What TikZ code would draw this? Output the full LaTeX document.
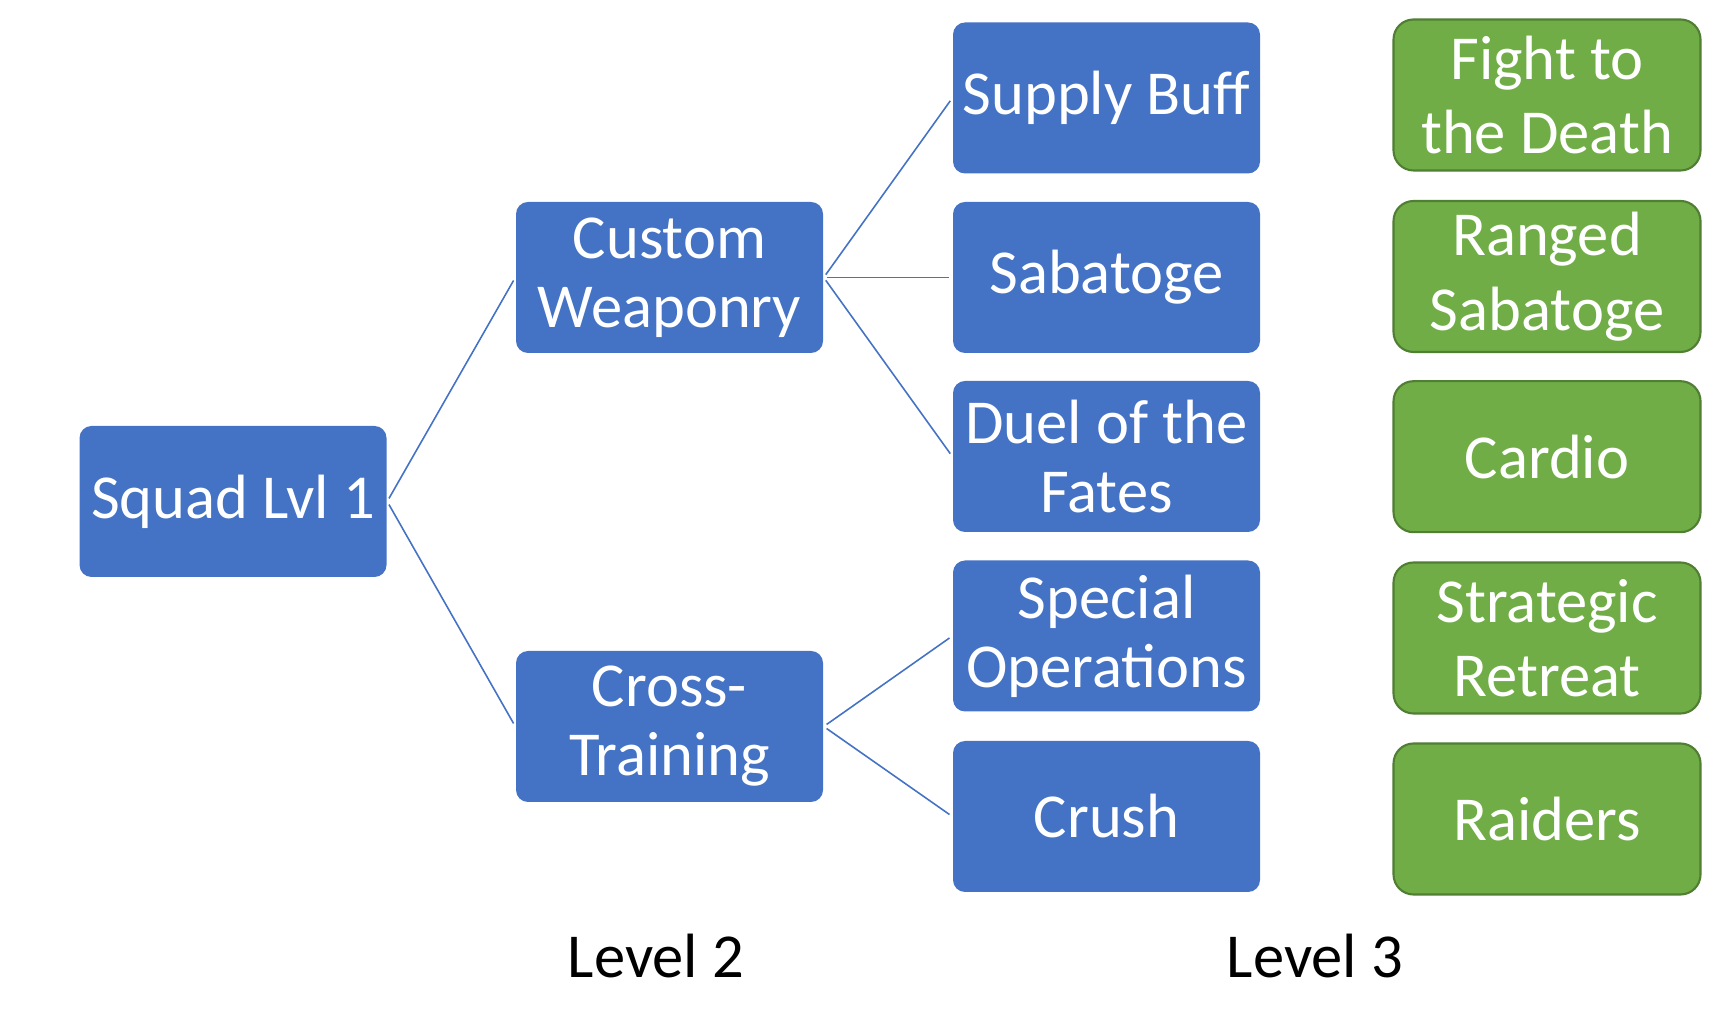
\documentclass[tikz,border=0pt]{standalone}
\usepackage{fontspec}
\setmainfont{Carlito}
\definecolor{skillblue}{HTML}{4472C4}
\definecolor{perkgreen}{HTML}{70AD47}
\definecolor{perkedge}{HTML}{507E32}
\begin{document}
\begin{tikzpicture}[
  skill/.style={fill=skillblue, rounded corners=0.12cm, minimum width=3.07cm, minimum height=1.51cm, align=center, inner sep=0pt, text=white, font=\fontsize{17.8}{19.6}\selectfont},
  perk/.style={skill, fill=perkgreen, draw=perkedge, line width=0.6pt, rounded corners=0.2cm, font=\fontsize{17.8}{21.2}\selectfont},
  link/.style={draw=skillblue, line width=0.45pt, shorten <=1pt, shorten >=1pt}]
\useasboundingbox (0,0) rectangle (17.13,10.34);
% level 1
  \node[skill] (squad) at (2.33,5.325) {Squad Lvl 1};
% level 2
  \node[skill] (weapon) at (6.695,7.565) {Custom\\Weaponry};
  \node[skill] (cross) at (6.695,3.075) {Cross-\\Training};
% level 3
  \node[skill] (supply) at (11.065,9.36) {Supply Buff};
  \node[skill] (sabo) at (11.065,7.565) {Sabatoge};
  \node[skill] (duel) at (11.065,5.775) {Duel of the\\Fates};
  \node[skill] (specops) at (11.065,3.98) {Special\\Operations};
  \node[skill] (crush) at (11.065,2.175) {Crush};
% perks
  \node[perk] (fight) at (15.47,9.39) {Fight to\\the Death};
  \node[perk] (ranged) at (15.47,7.575) {Ranged\\Sabatoge};
  \node[perk] (cardio) at (15.47,5.773) {Cardio};
  \node[perk] (retreat) at (15.47,3.96) {Strategic\\Retreat};
  \node[perk] (raiders) at (15.47,2.15) {Raiders};
% captions
  \node[font=\fontsize{17.8}{19.6}\selectfont] (lvltwo) at (6.56,0.78) {Level 2};
  \node[font=\fontsize{17.8}{19.6}\selectfont] (lvlthree) at (13.15,0.78) {Level 3};
%%%%%%%%%%%%%%%%
\draw[link] (squad.east) -- (weapon.west);
\draw[link] (squad.east) -- (cross.west);
\draw[link] (weapon.east) -- (supply.west);
\draw[link] (weapon.east) -- (sabo.west);
\draw[link] (weapon.east) -- (duel.west);
\draw[link] (cross.east) -- (specops.west);
\draw[link] (cross.east) -- (crush.west);
\end{tikzpicture}
\end{document}
